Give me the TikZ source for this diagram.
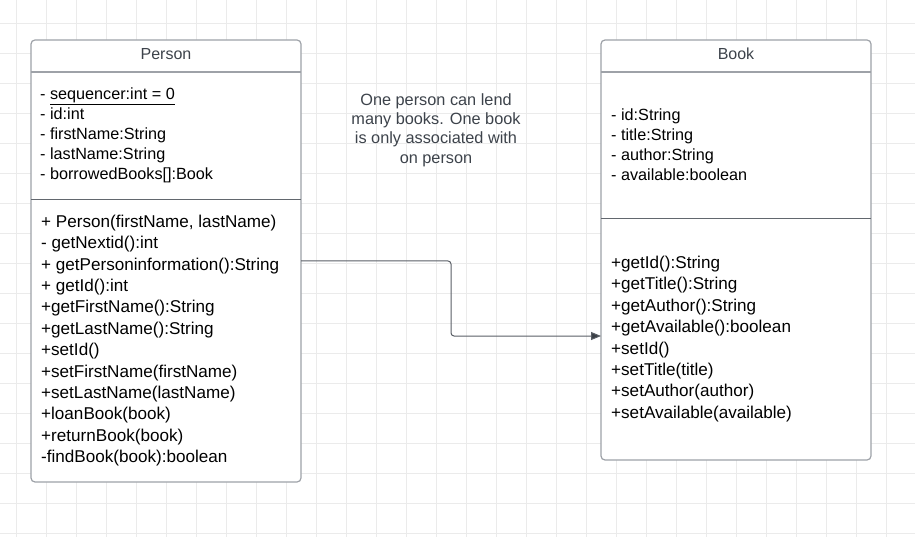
\documentclass[tikz,border=0pt]{standalone}
\usepackage{fontspec}
\setmainfont{Liberation Sans}
\usetikzlibrary{arrows.meta}
\definecolor{gridc}{HTML}{EBEBEB}
\definecolor{boxc}{HTML}{9EA2A8}
\definecolor{divc}{HTML}{62676E}
\definecolor{headc}{HTML}{3D434B}
\definecolor{linec}{HTML}{5A5F66}
\definecolor{tipc}{HTML}{3A3F46}
\begin{document}
\begin{tikzpicture}[x=1pt,y=-1pt,
  classbox/.style={draw=boxc, line width=1.2pt, rounded corners=4pt, fill=white, inner sep=0pt, outer sep=0pt, anchor=north west},
  headline/.style={draw=boxc, line width=1.2pt},
  divline/.style={draw=divc, line width=1pt},
  headtext/.style={text=headc, inner sep=0pt, font=\fontsize{16}{19}\selectfont},
  attr/.style={anchor=west, align=left, inner sep=0pt, text=black, font=\fontsize{16.2}{20}\selectfont},
  meth/.style={anchor=west, align=left, inner sep=0pt, text=black, font=\fontsize{17.1}{21.4}\selectfont},
  note/.style={align=center, inner sep=0pt, text=headc, font=\fontsize{16.3}{19.3}\selectfont},
  conn/.style={draw=linec, line width=1pt, rounded corners=3pt, -{Triangle[length=10pt,width=8pt,fill=tipc]}},
  gridline/.style={draw=gridc, line width=1pt}]
\useasboundingbox (0,0) rectangle (915,537);
\fill[white] (0,0) rectangle (915,537);
\foreach \i in {0,...,30} \draw[gridline] (16.67+30*\i,0) -- (16.67+30*\i,537);
\foreach \i in {0,...,17} \draw[gridline] (0,23.33+30*\i) -- (915,23.33+30*\i);

% Person class
\node[classbox, minimum width=270pt, minimum height=442pt] (person) at (31,40) {};
\draw[headline] (31,72) -- (301,72);
\draw[divline] (31,200) -- (301,200);
\node[headtext] (personname) at (166,54) {Person};
\node[attr] (personattr) at (40,135.5) {- \underline{sequencer:int = 0}\\- id:int\\- firstName:String\\- lastName:String\\- borrowedBooks[]:Book};
\node[meth] (personmeth) at (41,340.5) {+ Person(firstName, lastName)\\- getNextid():int\\+ getPersoninformation():String\\+ getId():int\\+getFirstName():String\\+getLastName():String\\+setId()\\+setFirstName(firstName)\\+setLastName(lastName)\\+loanBook(book)\\+returnBook(book)\\-findBook(book):boolean};

% Book class
\node[classbox, minimum width=270pt, minimum height=420pt] (book) at (601,40) {};
\draw[headline] (601,72) -- (871,72);
\draw[divline] (601,219) -- (871,219);
\node[headtext] (bookname) at (736,54) {Book};
\node[attr] (bookattr) at (611,144.5) {- id:String\\- title:String\\- author:String\\- available:boolean};
\node[meth] (bookmeth) at (611,339) {+getId():String\\+getTitle():String\\+getAuthor():String\\+getAvailable():boolean\\+setId()\\+setTitle(title)\\+setAuthor(author)\\+setAvailable(available)};

% Note
\node[note] (note) at (436,130) {One person can lend\\many books. One book\\is only associated with\\on person};

% Connector
\coordinate (elbow) at (451,300);
\coordinate (bookin) at (601,336);
\draw[conn] (person.east) -| (elbow) |- (bookin);
\end{tikzpicture}
\end{document}
